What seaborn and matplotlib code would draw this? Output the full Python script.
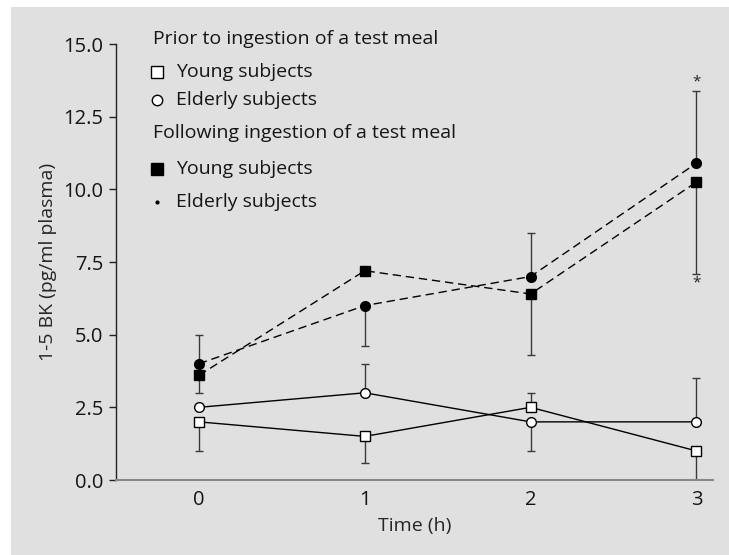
import matplotlib
matplotlib.use("Agg")
import matplotlib.pyplot as plt
from matplotlib.patches import Rectangle
import numpy as np
import pandas as pd
import seaborn as sns

# Time points (h)
hours = [0, 1, 2, 3]

# 1-5 BK concentrations (pg/ml plasma)
prior_young = [2.0, 1.5, 2.5, 1.0]
prior_elderly = [2.5, 3.0, 2.0, 2.0]
post_young = [3.6, 7.2, 6.4, 10.25]
post_elderly = [4.0, 6.0, 7.0, 10.9]

# One-sided error bars (lower, upper)
prior_young_lo = [1.0, 0.9, 0.0, 1.0]
prior_young_hi = [0.0, 0.0, 0.5, 0.0]
prior_elderly_lo = [0.0, 0.0, 1.0, 0.0]
prior_elderly_hi = [0.0, 1.0, 0.0, 1.5]
post_young_lo = [0.6, 0.0, 2.1, 3.15]
post_young_hi = [0.0, 0.0, 0.0, 0.0]
post_elderly_lo = [0.0, 1.4, 0.0, 0.0]
post_elderly_hi = [1.0, 0.0, 1.5, 2.5]

x_ticks = [0, 1, 2, 3]
y_ticks = [0.0, 2.5, 5.0, 7.5, 10.0, 12.5, 15.0]

sns.set_style("white")
plt.rcParams["font.family"] = ["Open Sans", "DejaVu Sans"]
plt.rcParams["text.color"] = "#151515"

FS = 14
BG = "#e0e0e0"
fig = plt.figure(figsize=(7.29, 5.55), dpi=100, facecolor="white")
fig.patches.append(Rectangle((11 / 729, 0), 1, 1 - 7 / 555, transform=fig.transFigure,
                             facecolor=BG, edgecolor="none", zorder=-10))
ax = fig.add_axes([116 / 729, 1 - 480 / 555, (713 - 116) / 729, (480 - 44) / 555])
ax.set_facecolor("none")

series = [
    ("prior_young", prior_young, prior_young_lo, prior_young_hi, "s", "white", "-"),
    ("prior_elderly", prior_elderly, prior_elderly_lo, prior_elderly_hi, "o", "white", "-"),
    ("post_young", post_young, post_young_lo, post_young_hi, "s", "black", "--"),
    ("post_elderly", post_elderly, post_elderly_lo, post_elderly_hi, "o", "black", "--"),
]

for name, vals, lo, hi, mk, fc, ls in series:
    df = pd.DataFrame({"hour": hours, "value": vals})
    ax.errorbar(df["hour"], df["value"], yerr=[lo, hi], fmt="none", ecolor="#3a3a3a",
                elinewidth=1.0, capsize=3.0, capthick=1.0, zorder=2)
    line_kw = dict(linewidth=1.0, color="black", zorder=3)
    if ls == "--":
        line_kw["dashes"] = (6, 3.5)
    sns.lineplot(data=df, x="hour", y="value", ax=ax, marker=mk,
                 markersize=7 if mk == "o" else 6.5, markerfacecolor=fc,
                 markeredgecolor="black", markeredgewidth=1.0, **line_kw)

# Significance markers at 3 h
ax.text(3, 13.45, "*", ha="center", va="bottom", fontsize=11, color="#222")
ax.text(3, 7.05, "*", ha="center", va="top", fontsize=11, color="#222")

ax.set_xlim(-0.5, 3.1)
ax.set_ylim(0, 15)
ax.set_xticks(x_ticks)
ax.set_yticks(y_ticks)
ax.set_yticklabels([f"{v:.1f}" for v in y_ticks])
ax.tick_params(axis="y", direction="out", length=5, width=1, color="#222",
               labelsize=FS + 0.5, pad=4, left=True, labelcolor="#151515")
ax.tick_params(axis="x", length=0, labelsize=FS + 0.5, pad=7, labelcolor="#151515")
ax.set_xlabel("Time (h)", fontsize=FS, labelpad=5)
ax.set_ylabel("1-5 BK (pg/ml plasma)", fontsize=FS, labelpad=5)
for side in ("top", "right"):
    ax.spines[side].set_visible(False)
ax.spines["left"].set_color("#222")
ax.spines["bottom"].set_color("#888")
ax.spines["left"].set_linewidth(1.0)
ax.spines["bottom"].set_linewidth(1.5)

# Legend with group headings
tx = (153 - 116) / (713 - 116)
mx = (157 - 116) / (713 - 116)
lx = (176 - 116) / (713 - 116)
def ay(py):
    return (480 - py) / (480 - 44)

ax.text(tx, ay(39), "Prior to ingestion of a test meal", transform=ax.transAxes,
        fontsize=FS, va="center", ha="left")
ax.text(tx, ay(133), "Following ingestion of a test meal", transform=ax.transAxes,
        fontsize=FS, va="center", ha="left")
entries = [(72, "s", "white", 9), (100, "o", "white", 7.5), (169, "s", "black", 9), (202, "o", "black", 2)]
for py, mk, fc, ms in entries:
    ax.plot([mx], [ay(py)], marker=mk, markersize=ms, markerfacecolor=fc,
            markeredgecolor="black", markeredgewidth=1.0, transform=ax.transAxes,
            clip_on=False, linestyle="none")
    label = "Young subjects" if mk == "s" else "Elderly subjects"
    ax.text(lx, ay(py), label, transform=ax.transAxes, fontsize=FS, va="center", ha="left")

fig.savefig("out.png", dpi=100, facecolor=fig.get_facecolor())
